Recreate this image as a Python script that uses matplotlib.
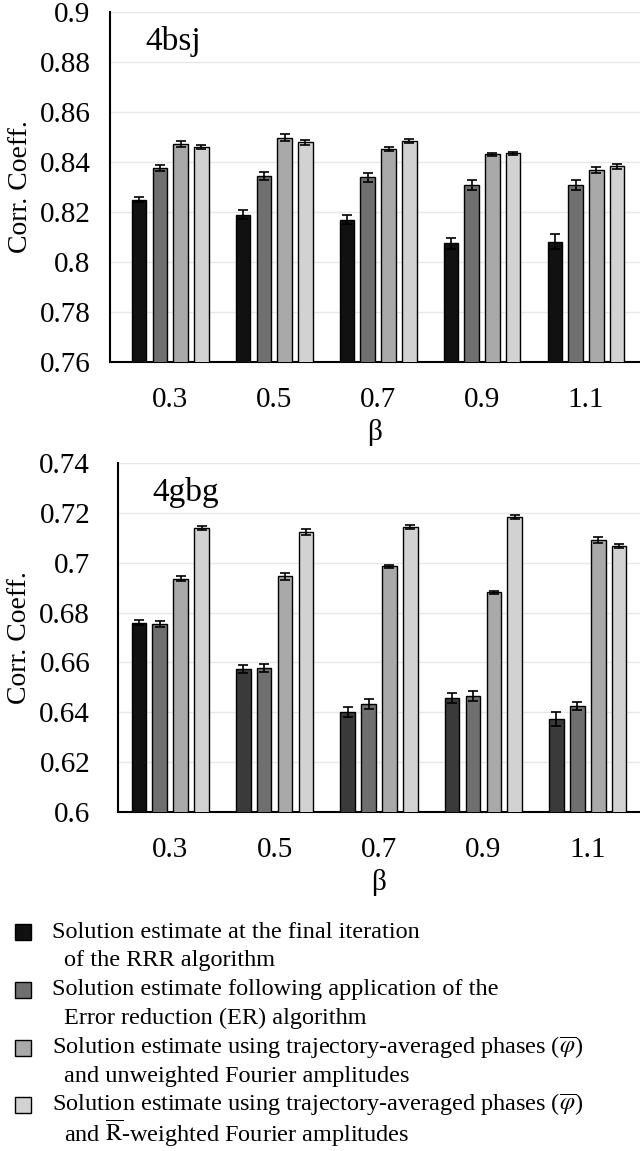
import matplotlib
matplotlib.use("Agg")
import matplotlib.pyplot as plt
from matplotlib.patches import Rectangle
from matplotlib.ticker import FuncFormatter, MultipleLocator
import numpy as np

plt.rcParams['font.family'] = ['Liberation Serif', 'DejaVu Serif']
plt.rcParams['mathtext.fontset'] = 'stix'

# data
betas = ['0.3', '0.5', '0.7', '0.9', '1.1']

# 4bsj
bsj_rrr = [0.825, 0.819, 0.817, 0.8075, 0.808]
bsj_rrr_err = [0.0010, 0.0017, 0.0017, 0.0023, 0.0030]
bsj_er = [0.8376, 0.8344, 0.8339, 0.8309, 0.8310]
bsj_er_err = [0.0013, 0.0016, 0.0019, 0.0019, 0.0020]
bsj_avg = [0.8471, 0.8498, 0.8453, 0.8431, 0.8369]
bsj_avg_err = [0.0012, 0.0013, 0.0007, 0.0005, 0.0013]
bsj_rw = [0.8461, 0.8479, 0.8484, 0.8435, 0.8383]
bsj_rw_err = [0.0009, 0.0009, 0.0007, 0.0007, 0.0010]

# 4gbg
gbg_rrr = [0.676, 0.6575, 0.640, 0.6457, 0.6373]
gbg_rrr_err = [0.0010, 0.0016, 0.0020, 0.0020, 0.0030]
gbg_er = [0.6755, 0.6577, 0.6433, 0.6464, 0.6424]
gbg_er_err = [0.0011, 0.0016, 0.0020, 0.0020, 0.0016]
gbg_avg = [0.6936, 0.6945, 0.6985, 0.6881, 0.7092]
gbg_avg_err = [0.0011, 0.0013, 0.0007, 0.0007, 0.0012]
gbg_rw = [0.7140, 0.7124, 0.7143, 0.7184, 0.7066]
gbg_rw_err = [0.0009, 0.0012, 0.0007, 0.0007, 0.0008]

legend_lines = [
    ("Solution estimate at the final iteration", "of the RRR algorithm"),
    ("Solution estimate following application of the", "Error reduction (ER) algorithm"),
    (r"Solution estimate using trajectory-averaged phases ($\overline{\varphi}$)",
     "and unweighted Fourier amplitudes"),
    (r"Solution estimate using trajectory-averaged phases ($\overline{\varphi}$)",
     r"and $\overline{\mathrm{R}}$-weighted Fourier amplitudes"),
]

colors = ['#111111', '#6f6f6f', '#a9a9a9', '#d2d2d2']

fig = plt.figure(figsize=(6.4, 11.51), dpi=100)


def draw_panel(ax, series, errs, ylim, step, name, xlim, first_colors, ypad):
    x = np.arange(len(betas))
    offs = [-0.3, -0.1, 0.1, 0.3]
    for k in range(4):
        c = first_colors if k == 0 else colors[k]
        ax.bar(x + offs[k], series[k], width=0.14, bottom=0, color=c,
               edgecolor='black', linewidth=1.0, zorder=3,
               yerr=errs[k], capsize=3.5,
               error_kw=dict(elinewidth=1.2, capthick=1.2, ecolor='black'))
    ax.set_ylim(*ylim)
    ax.set_xlim(*xlim)
    ax.yaxis.set_major_locator(MultipleLocator(step))
    ax.yaxis.set_major_formatter(FuncFormatter(lambda v, p: '%g' % round(v, 3)))
    ax.set_xticks(x)
    ax.set_xticklabels(betas)
    ax.grid(axis='y', color='#e8e8e8', linewidth=1.0, zorder=0)
    ax.set_axisbelow(True)
    for s in ['top', 'right']:
        ax.spines[s].set_visible(False)
    ax.spines['left'].set_linewidth(1.5)
    ax.spines['bottom'].set_linewidth(1.5)
    ax.tick_params(axis='y', length=0, pad=ypad, labelsize=21)
    ax.tick_params(axis='x', length=0, pad=18, labelsize=21)
    ax.set_ylabel('Corr. Coeff.', fontsize=20, labelpad=5)
    ax.set_xlabel('β', fontsize=21, labelpad=4)
    ax.text(0.066, 0.915, name, transform=ax.transAxes, fontsize=24,
            ha='left', va='center')


ax1 = fig.add_axes([110 / 640, 1 - 362 / 1151, 530 / 640, 350 / 1151])
draw_panel(ax1, [bsj_rrr, bsj_er, bsj_avg, bsj_rw],
           [bsj_rrr_err, bsj_er_err, bsj_avg_err, bsj_rw_err],
           (0.76, 0.9), 0.02, '4bsj', (-0.58, 4.52), colors[0], 14)

ax2 = fig.add_axes([118 / 640, 1 - 812 / 1151, 522 / 640, 349 / 1151])
draw_panel(ax2, [gbg_rrr, gbg_er, gbg_avg, gbg_rw],
           [gbg_rrr_err, gbg_er_err, gbg_avg_err, gbg_rw_err],
           (0.6, 0.74), 0.02, '4gbg', (-0.5, 4.5),
           ['#111111', '#3a3a3a', '#3a3a3a', '#3a3a3a', '#3a3a3a'], 20)

# legend drawn by hand so the square sits on the first line
row_y = [932, 990, 1048, 1105]
sq = 16
for k, (l1, l2) in enumerate(legend_lines):
    yc = row_y[k]
    fig.patches.append(Rectangle((15 / 640, 1 - (yc + sq / 2) / 1151), sq / 640, sq / 1151,
                                 transform=fig.transFigure, facecolor=colors[k],
                                 edgecolor='black', linewidth=1.0))
    fig.text(52 / 640, 1 - yc / 1151, l1, fontsize=17.5, va='center', ha='left')
    fig.text(64 / 640, 1 - (yc + 28.5) / 1151, l2, fontsize=17.5, va='center', ha='left')

fig.savefig('out.png', dpi=100)
